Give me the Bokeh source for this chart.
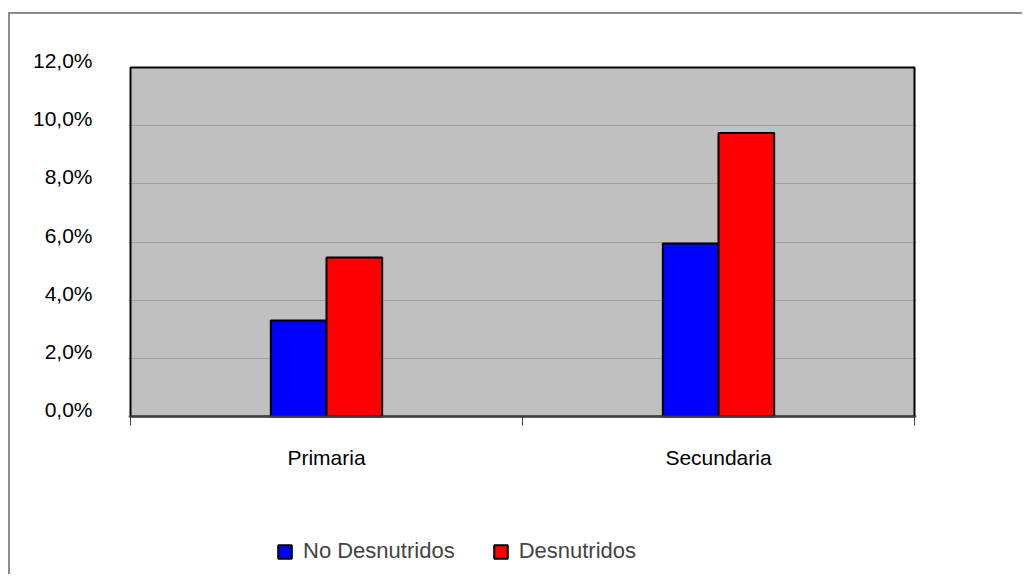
from bokeh.plotting import figure
from bokeh.models import Range1d, FixedTicker, Legend, LegendItem, ColumnDataSource, BoxAnnotation
from bokeh.embed import file_html
from bokeh.resources import INLINE

categories = ["Primaria", "Secundaria"]
series_names = ["No Desnutridos", "Desnutridos"]
no_desnutridos = [0.033, 0.0595]
desnutridos = [0.0547, 0.0975]
y_ticks = [0.0, 0.02, 0.04, 0.06, 0.08, 0.10, 0.12]
y_tick_labels = ["0,0%", "2,0%", "4,0%", "6,0%", "8,0%", "10,0%", "12,0%"]
colors = ["#0000FF", "#FF0000"]

FONT = "Liberation Sans, Arial, sans-serif"
BAR_W = 0.142

# layout (pixels on the canvas)
CANVAS_W, CANVAS_H = 1014, 562
FRAME_TOP = 16          # frame top on canvas
PLOT_TOP = 53           # top of the grey plot area on canvas
PLOT_BOTTOM = 402       # bottom (value 0) of the grey plot area on canvas
PLOT_W = 784            # width of the grey plot area
PAD = 2                 # extra frame pixels left/right of the grey area
LABEL_SHIFT = 7         # y tick labels sit a little above their grid line

n = len(categories)
y_max = y_ticks[-1]
per_px = y_max / (PLOT_BOTTOM - PLOT_TOP)
y_end = y_max + (PLOT_TOP - FRAME_TOP) * per_px
y_start = -(CANVAS_H - PLOT_BOTTOM) * per_px
shift = LABEL_SHIFT * per_px
x_pad = PAD * n / PLOT_W

p = figure(width=CANVAS_W, height=CANVAS_H, output_backend="svg", toolbar_location=None,
           x_range=Range1d(-x_pad, n + x_pad), y_range=Range1d(y_start, y_end),
           min_border_left=120 - PAD, min_border_top=FRAME_TOP,
           min_border_right=CANVAS_W - (120 - PAD) - (PLOT_W + 2 * PAD), min_border_bottom=0)
p.styles = {"border-top": "2px solid #8c8c8c", "border-left": "2px solid #8c8c8c",
            "margin-top": "12px", "margin-left": "8px"}
p.background_fill_color = "white"
p.border_fill_color = "white"
p.outline_line_color = None

# grey plot area (fill) and its dark outline
p.add_layout(BoxAnnotation(left=0, right=n, bottom=0, top=y_max,
                           fill_color="#C0C0C0", fill_alpha=1.0,
                           line_color=None, level="image"))
p.quad(left=[0], right=[n], bottom=[0], top=[y_max],
       fill_color=None, line_color="black", line_width=2)

renderers = []
for k, vals in enumerate([no_desnutridos, desnutridos]):
    xs = [i + 0.5 + (k - 0.5) * BAR_W for i in range(n)]
    src = ColumnDataSource(dict(x=xs, top=vals))
    r = p.vbar(x="x", top="top", width=BAR_W, bottom=0, source=src,
               fill_color=colors[k], line_color="black", line_width=2)
    renderers.append(r)

# y axis (labels on a slightly shifted range so they sit above the grid lines)
p.extra_y_ranges = {"labels": Range1d(y_start - shift, y_end - shift)}
yax = p.yaxis[0]
yax.y_range_name = "labels"
yax.ticker = FixedTicker(ticks=y_ticks)
yax.major_label_overrides = {t: l for t, l in zip(y_ticks, y_tick_labels)}
yax.axis_line_color = None
yax.major_tick_line_color = None
yax.major_tick_out = 0
yax.minor_tick_line_color = None
yax.major_label_standoff = 36
yax.major_label_text_font = FONT
yax.major_label_text_font_size = "21px"
yax.major_label_text_color = "black"

# x axis, fixed at value 0
centers = [i + 0.5 for i in range(n)]
xax = p.xaxis[0]
xax.fixed_location = 0
xax.ticker = FixedTicker(ticks=centers, minor_ticks=list(range(n + 1)))
xax.major_label_overrides = {c: l for c, l in zip(centers, categories)}
xax.major_tick_line_color = None
xax.major_tick_out = 0
xax.major_tick_in = 0
xax.minor_tick_out = 9
xax.minor_tick_in = 0
xax.minor_tick_line_color = "#404040"
xax.axis_line_color = "#404040"
xax.axis_line_width = 2
xax.major_label_standoff = 20
xax.major_label_text_font = FONT
xax.major_label_text_font_size = "21px"
xax.major_label_text_color = "black"

p.xgrid.grid_line_color = None
p.ygrid.ticker = FixedTicker(ticks=y_ticks[1:-1])
p.ygrid.grid_line_color = "#A0A0A0"
p.ygrid.grid_line_width = 1

legend = Legend(items=[LegendItem(label=s, renderers=[r]) for s, r in zip(series_names, renderers)],
                orientation="horizontal", location=(146 + PAD, 12),
                label_text_font=FONT, label_text_font_size="22px",
                glyph_width=17, glyph_height=17, label_standoff=10, spacing=37,
                border_line_color=None, background_fill_alpha=0, padding=0, margin=0)
p.add_layout(legend, "center")

open("out.html", "w").write(file_html(p, INLINE))
